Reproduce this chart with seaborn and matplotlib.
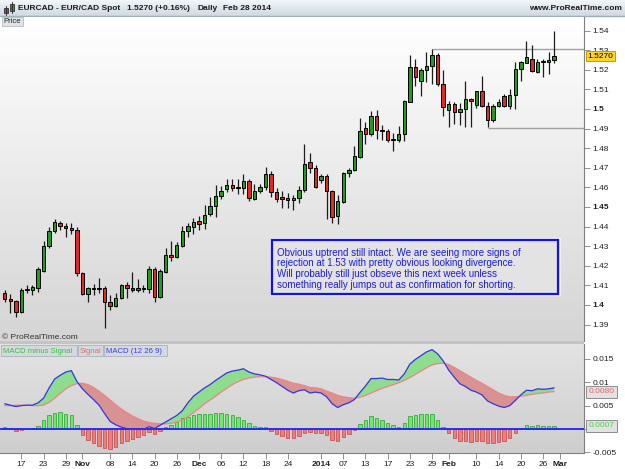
import numpy as np
import pandas as pd
import matplotlib
matplotlib.use("Agg")
import matplotlib.pyplot as plt
import matplotlib.transforms as mtransforms
from matplotlib.colors import LinearSegmentedColormap
from matplotlib.patches import Rectangle
import seaborn as sns

sns.set_theme(style="white")
plt.rcParams['font.family'] = ['Liberation Sans', 'DejaVu Sans']

# EUR/CAD daily candles, 14 Oct 2013 -> 28 Feb 2014
dates = pd.bdate_range('2013-10-14', '2014-02-28')

opens = [1.4060, 1.4032, 1.4020, 1.3963, 1.4078, 1.4078, 1.4088, 1.4173, 1.4302, 1.4379,
         1.4418, 1.4401, 1.4391, 1.4383, 1.4162, 1.4054, 1.4083, 1.4083, 1.4085, 1.4015,
         1.3995, 1.4034, 1.4100, 1.4087, 1.4075, 1.4083, 1.4083, 1.4182, 1.4042, 1.4170,
         1.4255, 1.4243, 1.4301, 1.4377, 1.4399, 1.4427, 1.4417, 1.4463, 1.4505, 1.4555,
         1.4593, 1.4612, 1.4600, 1.4598, 1.4634, 1.4542, 1.4580, 1.4600, 1.4668, 1.4575,
         1.4549, 1.4544, 1.4536, 1.4546, 1.4585, 1.4730, 1.4699, 1.4638, 1.4658, 1.4583,
         1.4456, 1.4525, 1.4673, 1.4690, 1.4755, 1.4903, 1.4872, 1.4964, 1.4893, 1.4888,
         1.4847, 1.4842, 1.4872, 1.5037, 1.5213, 1.5144, 1.5199, 1.5221, 1.5275, 1.5127,
         1.4995, 1.5024, 1.4983, 1.4998, 1.5049, 1.5020, 1.5092, 1.5017, 1.4944, 1.5017,
         1.5068, 1.5017, 1.5071, 1.5204, 1.5236, 1.5253, 1.5190, 1.5238, 1.5238, 1.5250]
highs = [1.4076, 1.4054, 1.4025, 1.4085, 1.4102, 1.4103, 1.4192, 1.4326, 1.4399, 1.4439,
         1.4430, 1.4418, 1.4417, 1.4399, 1.4168, 1.4090, 1.4105, 1.4136, 1.4097, 1.4049,
         1.4060, 1.4107, 1.4119, 1.4168, 1.4134, 1.4102, 1.4199, 1.4192, 1.4184, 1.4292,
         1.4326, 1.4321, 1.4403, 1.4420, 1.4442, 1.4456, 1.4510, 1.4549, 1.4611, 1.4607,
         1.4641, 1.4644, 1.4644, 1.4667, 1.4644, 1.4616, 1.4619, 1.4706, 1.4682, 1.4595,
         1.4582, 1.4573, 1.4561, 1.4606, 1.4820, 1.4774, 1.4716, 1.4668, 1.4668, 1.4588,
         1.4561, 1.4680, 1.4700, 1.4811, 1.4954, 1.4932, 1.4988, 1.4995, 1.4917, 1.4899,
         1.4879, 1.4913, 1.5046, 1.5275, 1.5255, 1.5211, 1.5292, 1.5306, 1.5284, 1.5197,
         1.5041, 1.5037, 1.5032, 1.5143, 1.5055, 1.5093, 1.5168, 1.5037, 1.5025, 1.5049,
         1.5076, 1.5102, 1.5238, 1.5246, 1.5348, 1.5326, 1.5253, 1.5253, 1.5292, 1.5398]
lows = [1.4017, 1.3961, 1.3940, 1.3958, 1.4060, 1.4051, 1.4066, 1.4170, 1.4292, 1.4366,
        1.4381, 1.4345, 1.4362, 1.4149, 1.4051, 1.4014, 1.4051, 1.4060, 1.3884, 1.3974,
        1.3991, 1.4029, 1.4034, 1.4068, 1.4068, 1.4065, 1.4063, 1.4014, 1.4036, 1.4165,
        1.4226, 1.4238, 1.4294, 1.4348, 1.4362, 1.4383, 1.4386, 1.4456, 1.4447, 1.4542,
        1.4575, 1.4583, 1.4566, 1.4566, 1.4530, 1.4536, 1.4570, 1.4587, 1.4552, 1.4527,
        1.4496, 1.4493, 1.4485, 1.4522, 1.4578, 1.4675, 1.4595, 1.4624, 1.4439, 1.4417,
        1.4412, 1.4522, 1.4651, 1.4684, 1.4748, 1.4820, 1.4862, 1.4847, 1.4842, 1.4833,
        1.4786, 1.4830, 1.4835, 1.5034, 1.5117, 1.5068, 1.5139, 1.5126, 1.5119, 1.4966,
        1.4907, 1.4923, 1.4917, 1.4910, 1.4907, 1.5003, 1.5009, 1.4907, 1.4935, 1.5009,
        1.5009, 1.4998, 1.4998, 1.5144, 1.5233, 1.5187, 1.5182, 1.5162, 1.5178, 1.5233]
closes = [1.4030, 1.4019, 1.3963, 1.4076, 1.4080, 1.4092, 1.4182, 1.4302, 1.4379, 1.4422,
          1.4401, 1.4391, 1.4381, 1.4162, 1.4054, 1.4085, 1.4084, 1.4084, 1.4015, 1.3995,
          1.4034, 1.4100, 1.4087, 1.4075, 1.4088, 1.4084, 1.4182, 1.4042, 1.4173, 1.4255,
          1.4243, 1.4304, 1.4377, 1.4401, 1.4422, 1.4413, 1.4461, 1.4505, 1.4555, 1.4582,
          1.4612, 1.4598, 1.4599, 1.4634, 1.4544, 1.4580, 1.4602, 1.4668, 1.4575, 1.4542,
          1.4542, 1.4536, 1.4546, 1.4585, 1.4718, 1.4697, 1.4600, 1.4658, 1.4582, 1.4450,
          1.4529, 1.4673, 1.4690, 1.4759, 1.4889, 1.4872, 1.4964, 1.4893, 1.4886, 1.4840,
          1.4842, 1.4872, 1.5041, 1.5213, 1.5165, 1.5199, 1.5221, 1.5275, 1.5127, 1.5009,
          1.5024, 1.4983, 1.4998, 1.5049, 1.5041, 1.5092, 1.5017, 1.4944, 1.5015, 1.5034,
          1.5017, 1.5071, 1.5204, 1.5238, 1.5264, 1.5194, 1.5241, 1.5245, 1.5250, 1.5270]

# MACD (12 26 9) panel, in units of 1e-4
macd_e4 = [54, 51, 48, 50, 51, 51, 56, 66, 88, 107, 115, 122, 125, 102, 86, 74, 63, 51, 33, 16,
           9, 4, 1, -1, -1, -1, 5, 1, 8, 15, 22, 29, 39, 56, 70, 79, 88, 95, 104, 112,
           120, 124, 126, 129, 122, 118, 116, 113, 106, 99, 91, 83, 77, 82, 84, 77, 79,
           77, 69, 54, 46, 52, 56, 63, 78, 92, 108, 108, 109, 106, 106, 105, 118, 139, 149, 157,
           165, 170, 161, 146, 126, 111, 97, 91, 83, 79, 73, 60, 54, 49, 46, 50, 61, 73, 83,
           82, 86, 85, 86, 88]
signal_e4 = [50, 50, 51, 51, 51, 50, 50, 51, 57, 66, 76, 86, 93, 97, 98, 95, 89, 81, 72, 62,
             52, 43, 35, 28, 22, 17, 14, 12, 11, 11, 12, 15, 19, 26, 35, 44, 54, 62, 70, 79,
             87, 95, 101, 106, 109, 111, 112, 112, 111, 109, 106, 102, 98, 96, 93, 89, 88,
             86, 81, 77, 72, 69, 67, 66, 68, 72, 77, 82, 87, 91, 95, 99, 104, 110, 117, 124,
             131, 137, 140, 141, 138, 132, 125, 118, 111, 104, 98, 91, 84, 77, 72, 69, 69, 70,
             72, 74, 76, 77, 79, 80]
hist_e4 = [5, 2, -5, -2, 0, 2, 7, 19, 29, 35, 36, 32, 29, 9, -12, -24, -31, -37, -41, -42,
           -39, -31, -26, -22, -18, -12, -6, -11, -4, 5, 9, 15, 24, 26, 31, 32, 32, 32, 34, 34,
           33, 29, 26, 20, 12, 6, 4, 4, -5, -10, -14, -19, -19, -16, -9, -6, -9,
           -9, -12, -23, -26, -17, -11, -2, 11, 19, 27, 24, 20, 12, 9, 5, 13, 27, 31, 32, 32,
           32, 19, 4, -9, -19, -26, -26, -28, -25, -25, -31, -30, -28, -25, -19, -9, 2, 9, 7,
           9, 7, 7, 7]

# drawn support / resistance lines
resist_level, resist_start = 1.5305, '2014-01-29'
support_level, support_start = 1.4903, '2014-02-12'

tick_days = ['2013-10-17', '2013-10-23', '2013-10-29', '2013-11-01', '2013-11-08', '2013-11-14',
             '2013-11-20', '2013-11-26', '2013-12-02', '2013-12-06', '2013-12-12', '2013-12-18',
             '2013-12-24', '2014-01-01', '2014-01-07', '2014-01-13', '2014-01-17', '2014-01-23',
             '2014-01-29', '2014-02-03', '2014-02-10', '2014-02-14', '2014-02-20', '2014-02-26',
             '2014-03-03']
tick_labels = ['17', '23', '29', 'Nov', '08', '14', '20', '26', 'Dec', '06', '12', '18', '24',
               '2014', '07', '13', '17', '23', '29', 'Feb', '10', '14', '20', '26', 'Mar']
bold_ticks = ['Nov', 'Dec', '2014', 'Feb', 'Mar']
price_ticks = [1.39, 1.40, 1.41, 1.42, 1.43, 1.44, 1.45, 1.46, 1.47, 1.48, 1.49, 1.50,
               1.51, 1.52, 1.53, 1.54]
bold_prices = [1.40, 1.45, 1.50]
# the 0 level label sits under the histogram value box, so only the tick shows
macd_ticks = [0.015, 0.01, 0.005, 0.0, -0.005]
macd_tick_labels = ['0.015', '0.01', '0.005', '', '-0.005']

note_lines = ["Obvious uptrend still intact. We are seeing more signs of",
              "rejection at 1.53 with pretty obvious looking divergence.",
              "Will probably still just obseve this next week unless",
              "something really jumps out as confirmation for shorting."]

df = pd.DataFrame({'open': opens, 'high': highs, 'low': lows, 'close': closes,
                   'macd': np.array(macd_e4) * 1e-4,
                   'signal': np.array(signal_e4) * 1e-4,
                   'hist': np.array(hist_e4) * 1e-4}, index=dates)
df['x'] = np.arange(len(df))

W, H = 625, 469
fig = plt.figure(figsize=(W / 100, H / 100), dpi=100, facecolor='white')


def rect(x0, y0, x1, y1):
    return [x0 / W, 1 - y1 / H, (x1 - x0) / W, (y1 - y0) / H]


def grad_cmap(c0, c1):
    return LinearSegmentedColormap.from_list('g', [c0, c1])


ramp = np.linspace(0, 1, 64).reshape(-1, 1)

# background layer in pixel coordinates
bg = fig.add_axes([0, 0, 1, 1], zorder=-5)
bg.set_xlim(0, W)
bg.set_ylim(H, 0)
bg.axis('off')
bg.imshow(ramp, extent=(0, W, 16, 0), cmap=grad_cmap('#f2f6f9', '#cdd9e2'), aspect='auto')
bg.plot([0, W], [16, 16], color='#9fb0bd', lw=1)
bg.add_patch(Rectangle((0, 341), 584, 3, fc='#c4c4c4', ec='none'))

xmin, xmax = -0.85, 104.38

# price panel
ax_p = fig.add_axes(rect(0, 17, 584, 341))
p_lo, p_hi = 1.3816, 1.5469
ax_p.imshow(ramp, extent=(xmin, xmax, p_lo, p_hi), cmap=grad_cmap('#ffffff', '#d5d5d5'),
            aspect='auto', zorder=0)

up = df['close'] >= df['open']
ax_p.vlines(df['x'], df['low'], df['high'], color='#1c1c1c', lw=0.9, zorder=2)
ax_p.bar(df['x'], (df['close'] - df['open']).abs(), bottom=np.minimum(df['open'], df['close']),
         width=0.62, color=np.where(up, '#1e9e1e', '#e32626'), edgecolor='black',
         linewidth=0.7, zorder=3)

x_res = dates.get_loc(pd.Timestamp(resist_start))
x_sup = dates.get_loc(pd.Timestamp(support_start))
ax_p.hlines([resist_level, support_level], [x_res, x_sup], xmax, color='#a0a0a0', lw=1, zorder=1)

ax_p.set_xlim(xmin, xmax)
ax_p.set_ylim(p_lo, p_hi)
ax_p.set_xticks([])
ax_p.yaxis.tick_right()
ax_p.set_yticks(price_ticks)
ax_p.set_yticklabels([f'{v:g}' for v in price_ticks])
for lbl, v in zip(ax_p.get_yticklabels(), price_ticks):
    if v in bold_prices:
        lbl.set_fontweight('bold')
ax_p.tick_params(axis='y', right=True, direction='out', length=4, width=0.6, color='#808080',
                 labelsize=6, pad=2, labelcolor='#202020')
for side in ['top', 'bottom', 'left']:
    ax_p.spines[side].set_visible(False)
ax_p.spines['right'].set_color('#808080')
ax_p.spines['right'].set_linewidth(0.8)

blend_p = mtransforms.blended_transform_factory(ax_p.transAxes, ax_p.transData)
ax_p.text(1.006, closes[-1], f'{closes[-1]:.4f}', transform=blend_p, fontsize=6, va='center',
          ha='left', color='black', clip_on=False, zorder=10,
          bbox=dict(boxstyle='square,pad=0.2', fc='#ffd423', ec='#c99700', lw=0.7))

# MACD panel
ax_m = fig.add_axes(rect(0, 344, 584, 453))
m_lo, m_hi = -0.00514, 0.01820
ax_m.imshow(ramp, extent=(xmin, xmax, m_lo, m_hi), cmap=grad_cmap('#e3e3e3', '#cecece'),
            aspect='auto', zorder=0)
above = df['macd'] >= df['signal']
ax_m.fill_between(df['x'], df['macd'], df['signal'], where=above, interpolate=True,
                  color='#8edc8e', lw=0, zorder=1)
ax_m.fill_between(df['x'], df['macd'], df['signal'], where=~above, interpolate=True,
                  color='#d99292', lw=0, zorder=1)
pos = df['hist'] >= 0
ax_m.bar(df['x'], df['hist'], width=0.62, color=np.where(pos, '#6fe86f', '#f27c7c'),
         edgecolor=np.where(pos, '#2c9c2c', '#c24646'), linewidth=0.5, zorder=2)
ax_m.axhline(0, color='#1f1fff', lw=1.3, zorder=3)
sns.lineplot(data=df, x='x', y='signal', ax=ax_m, color='#ec8585', lw=0.9, zorder=4)
sns.lineplot(data=df, x='x', y='macd', ax=ax_m, color='#3434e4', lw=0.9, zorder=5)
ax_m.set_xlabel('')
ax_m.set_ylabel('')
ax_m.set_xlim(xmin, xmax)
ax_m.set_ylim(m_lo, m_hi)

tick_pos = np.searchsorted(dates.values, pd.to_datetime(tick_days).values)
ax_m.set_xticks(tick_pos)
ax_m.set_xticklabels(tick_labels)
for lbl in ax_m.get_xticklabels():
    if lbl.get_text() in bold_ticks:
        lbl.set_fontweight('bold')
ax_m.tick_params(axis='x', bottom=True, direction='out', length=4, width=0.6, color='#808080',
                 labelsize=6, pad=1.5, labelcolor='#202020')
ax_m.yaxis.tick_right()
ax_m.set_yticks(macd_ticks)
ax_m.set_yticklabels(macd_tick_labels)
ax_m.tick_params(axis='y', right=True, direction='out', length=4, width=0.6, color='#808080',
                 labelsize=6, pad=2, labelcolor='#202020')
for side in ['top', 'left']:
    ax_m.spines[side].set_visible(False)
for side in ['right', 'bottom']:
    ax_m.spines[side].set_color('#808080')
    ax_m.spines[side].set_linewidth(0.8)

blend_m = mtransforms.blended_transform_factory(ax_m.transAxes, ax_m.transData)
ax_m.text(1.008, df['signal'].iloc[-1], f"{df['signal'].iloc[-1]:.4f}", transform=blend_m,
          fontsize=6, va='center', ha='left', color='#e06a6a', clip_on=False, zorder=10,
          bbox=dict(boxstyle='square,pad=0.3', fc='#e2e2e2', ec='#8c8c8c', lw=0.7))
ax_m.text(1.008, df['hist'].iloc[-1], f"{df['hist'].iloc[-1]:.4f}", transform=blend_m,
          fontsize=6, va='center', ha='left', color='#4ccf4c', clip_on=False, zorder=10,
          bbox=dict(boxstyle='square,pad=0.3', fc='#e2e2e2', ec='#8c8c8c', lw=0.7))

# foreground layer: header texts, legend chips, note box
fg = fig.add_axes([0, 0, 1, 1], zorder=5)
fg.set_xlim(0, W)
fg.set_ylim(H, 0)
fg.axis('off')
fg.patch.set_alpha(0)

# little candle icon
fg.plot([6, 6], [6, 15], color='#333333', lw=0.7)
fg.add_patch(Rectangle((3.8, 8), 4.4, 5, fc='#e32626', ec='#333333', lw=0.6))
fg.plot([12, 12], [2, 13], color='#333333', lw=0.7)
fg.add_patch(Rectangle((9.8, 4), 4.4, 7, fc='#1e9e1e', ec='#333333', lw=0.6))

hdr = dict(fontsize=6, fontweight='bold', va='center', color='#1a1a1a')
fg.text(18, 8.5, 'EURCAD - EUR/CAD Spot', **hdr)
fg.text(127, 8.5, '1.5270 (+0.16%)', **hdr)
fg.text(198, 8.5, 'Daily', **hdr)
fg.text(223, 8.5, 'Feb 28 2014', **hdr)
fg.text(622, 8.5, 'www.ProRealTime.com', ha='right', **hdr)

fg.add_patch(Rectangle((1.5, 17), 21, 9.5, fc='#dfe4e9', ec='#b4bcc4', lw=0.6))
fg.text(3.5, 21.9, 'Price', fontsize=5.5, va='center', color='#202020')

fg.text(2, 337.5, '\u00a9 ProRealTime.com', fontsize=6, va='center', color='#303030')

chips = [('MACD minus Signal', '#3cc23c', 1, 76), ('Signal', '#e07070', 78, 25),
         ('MACD (12 26 9)', '#3c3ce0', 104, 63)]
for txt, col, x0, w in chips:
    fg.add_patch(Rectangle((x0, 345.5), w, 11, fc='#d3d9df', ec='#a9b2ba', lw=0.6))
    fg.text(x0 + 1.8, 351.2, txt, fontsize=5.6, va='center', color=col)

fg.add_patch(Rectangle((270.5, 238.5), 289, 57, fc='none', ec='#f4f4f4', lw=1))
fg.add_patch(Rectangle((271.8, 239.6), 286.4, 54.8, fc='#e3e3e3', ec='#1010ff', lw=1.6))
for k, line in enumerate(note_lines):
    fg.text(277, 252.7 + 10.8 * k, line, fontsize=7, va='center', color='#1a1aee')

fig.savefig('out.png', dpi=100, facecolor='white')
